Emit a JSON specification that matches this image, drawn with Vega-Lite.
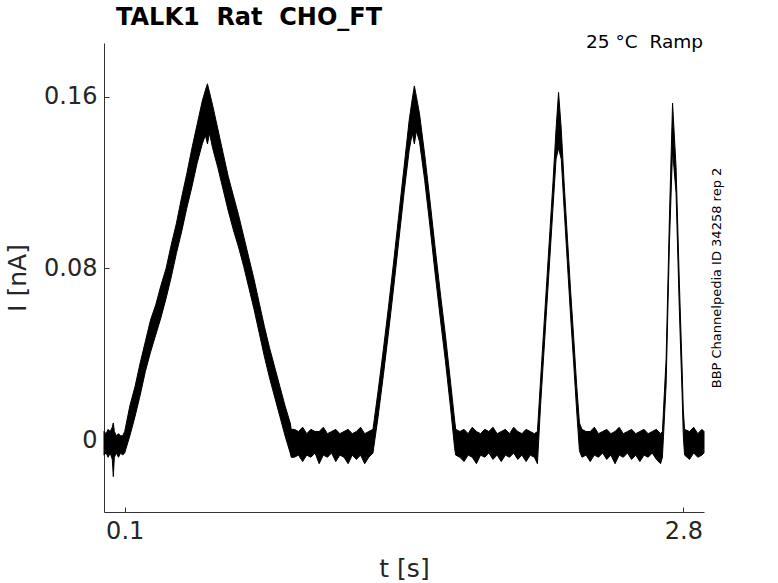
{
  "$schema": "https://vega.github.io/schema/vega-lite/v6.json",
  "width": 600,
  "height": 469,
  "autosize": {"type": "none"},
  "padding": {"left": 104, "top": 43, "right": 74, "bottom": 71},
  "background": "white",
  "title": {
    "text": "TALK1 \u00a0Rat \u00a0CHO_FT",
    "anchor": "start",
    "frame": "group",
    "dx": 12,
    "offset": -16,
    "baseline": "alphabetic",
    "font": "DejaVu Sans",
    "fontSize": 24,
    "fontWeight": "bold",
    "color": "black"
  },
  "data": {
    "values": [
      {"t": 0.000, "lo": -0.007, "hi": 0.004},
      {"t": 0.010, "lo": -0.006, "hi": 0.003},
      {"t": 0.020, "lo": -0.008, "hi": 0.005},
      {"t": 0.030, "lo": -0.006, "hi": 0.004},
      {"t": 0.040, "lo": -0.009, "hi": 0.006},
      {"t": 0.045, "lo": -0.017, "hi": 0.008},
      {"t": 0.050, "lo": -0.008, "hi": 0.004},
      {"t": 0.060, "lo": -0.006, "hi": 0.002},
      {"t": 0.070, "lo": -0.008, "hi": 0.003},
      {"t": 0.080, "lo": -0.006, "hi": 0.002},
      {"t": 0.090, "lo": -0.007, "hi": 0.002},
      {"t": 0.100, "lo": -0.006, "hi": 0.004},
      {"t": 0.125, "lo": 0.002, "hi": 0.016},
      {"t": 0.150, "lo": 0.011, "hi": 0.025},
      {"t": 0.175, "lo": 0.021, "hi": 0.036},
      {"t": 0.200, "lo": 0.032, "hi": 0.046},
      {"t": 0.225, "lo": 0.041, "hi": 0.056},
      {"t": 0.250, "lo": 0.049, "hi": 0.063},
      {"t": 0.275, "lo": 0.057, "hi": 0.072},
      {"t": 0.300, "lo": 0.066, "hi": 0.080},
      {"t": 0.325, "lo": 0.076, "hi": 0.091},
      {"t": 0.350, "lo": 0.087, "hi": 0.101},
      {"t": 0.375, "lo": 0.097, "hi": 0.113},
      {"t": 0.400, "lo": 0.108, "hi": 0.124},
      {"t": 0.425, "lo": 0.118, "hi": 0.136},
      {"t": 0.450, "lo": 0.129, "hi": 0.147},
      {"t": 0.475, "lo": 0.138, "hi": 0.158},
      {"t": 0.490, "lo": 0.142, "hi": 0.163},
      {"t": 0.500, "lo": 0.138, "hi": 0.166},
      {"t": 0.510, "lo": 0.143, "hi": 0.162},
      {"t": 0.525, "lo": 0.136, "hi": 0.156},
      {"t": 0.550, "lo": 0.127, "hi": 0.145},
      {"t": 0.575, "lo": 0.117, "hi": 0.134},
      {"t": 0.600, "lo": 0.107, "hi": 0.123},
      {"t": 0.625, "lo": 0.098, "hi": 0.114},
      {"t": 0.650, "lo": 0.090, "hi": 0.105},
      {"t": 0.675, "lo": 0.081, "hi": 0.095},
      {"t": 0.700, "lo": 0.071, "hi": 0.085},
      {"t": 0.725, "lo": 0.061, "hi": 0.075},
      {"t": 0.750, "lo": 0.050, "hi": 0.064},
      {"t": 0.775, "lo": 0.039, "hi": 0.053},
      {"t": 0.800, "lo": 0.029, "hi": 0.043},
      {"t": 0.825, "lo": 0.020, "hi": 0.034},
      {"t": 0.850, "lo": 0.011, "hi": 0.025},
      {"t": 0.875, "lo": 0.002, "hi": 0.016},
      {"t": 0.900, "lo": -0.006, "hi": 0.008},
      {"t": 0.905, "lo": -0.008, "hi": 0.005},
      {"t": 0.920, "lo": -0.008, "hi": 0.005},
      {"t": 0.940, "lo": -0.007, "hi": 0.004},
      {"t": 0.960, "lo": -0.010, "hi": 0.006},
      {"t": 0.980, "lo": -0.007, "hi": 0.003},
      {"t": 1.000, "lo": -0.008, "hi": 0.005},
      {"t": 1.020, "lo": -0.006, "hi": 0.004},
      {"t": 1.040, "lo": -0.011, "hi": 0.004},
      {"t": 1.060, "lo": -0.007, "hi": 0.006},
      {"t": 1.080, "lo": -0.008, "hi": 0.003},
      {"t": 1.100, "lo": -0.006, "hi": 0.004},
      {"t": 1.120, "lo": -0.010, "hi": 0.005},
      {"t": 1.140, "lo": -0.007, "hi": 0.003},
      {"t": 1.160, "lo": -0.008, "hi": 0.004},
      {"t": 1.180, "lo": -0.011, "hi": 0.005},
      {"t": 1.200, "lo": -0.007, "hi": 0.003},
      {"t": 1.220, "lo": -0.009, "hi": 0.004},
      {"t": 1.240, "lo": -0.007, "hi": 0.006},
      {"t": 1.260, "lo": -0.011, "hi": 0.003},
      {"t": 1.280, "lo": -0.008, "hi": 0.004},
      {"t": 1.300, "lo": -0.006, "hi": 0.005},
      {"t": 1.325, "lo": 0.011, "hi": 0.023},
      {"t": 1.350, "lo": 0.030, "hi": 0.042},
      {"t": 1.375, "lo": 0.050, "hi": 0.062},
      {"t": 1.400, "lo": 0.071, "hi": 0.083},
      {"t": 1.425, "lo": 0.093, "hi": 0.105},
      {"t": 1.450, "lo": 0.115, "hi": 0.127},
      {"t": 1.475, "lo": 0.135, "hi": 0.149},
      {"t": 1.490, "lo": 0.143, "hi": 0.159},
      {"t": 1.500, "lo": 0.138, "hi": 0.165},
      {"t": 1.510, "lo": 0.144, "hi": 0.160},
      {"t": 1.525, "lo": 0.139, "hi": 0.152},
      {"t": 1.550, "lo": 0.121, "hi": 0.133},
      {"t": 1.575, "lo": 0.100, "hi": 0.112},
      {"t": 1.600, "lo": 0.078, "hi": 0.090},
      {"t": 1.625, "lo": 0.057, "hi": 0.069},
      {"t": 1.650, "lo": 0.037, "hi": 0.049},
      {"t": 1.675, "lo": 0.015, "hi": 0.027},
      {"t": 1.695, "lo": -0.004, "hi": 0.009},
      {"t": 1.700, "lo": -0.007, "hi": 0.005},
      {"t": 1.720, "lo": -0.008, "hi": 0.004},
      {"t": 1.740, "lo": -0.010, "hi": 0.005},
      {"t": 1.760, "lo": -0.007, "hi": 0.003},
      {"t": 1.780, "lo": -0.008, "hi": 0.006},
      {"t": 1.800, "lo": -0.011, "hi": 0.004},
      {"t": 1.820, "lo": -0.007, "hi": 0.003},
      {"t": 1.840, "lo": -0.008, "hi": 0.005},
      {"t": 1.860, "lo": -0.006, "hi": 0.004},
      {"t": 1.880, "lo": -0.009, "hi": 0.006},
      {"t": 1.900, "lo": -0.007, "hi": 0.003},
      {"t": 1.920, "lo": -0.010, "hi": 0.004},
      {"t": 1.940, "lo": -0.007, "hi": 0.005},
      {"t": 1.960, "lo": -0.008, "hi": 0.003},
      {"t": 1.980, "lo": -0.006, "hi": 0.006},
      {"t": 2.000, "lo": -0.009, "hi": 0.004},
      {"t": 2.020, "lo": -0.007, "hi": 0.003},
      {"t": 2.040, "lo": -0.010, "hi": 0.005},
      {"t": 2.060, "lo": -0.007, "hi": 0.004},
      {"t": 2.080, "lo": -0.008, "hi": 0.003},
      {"t": 2.095, "lo": -0.011, "hi": 0.004},
      {"t": 2.110, "lo": 0.016, "hi": 0.028},
      {"t": 2.125, "lo": 0.039, "hi": 0.051},
      {"t": 2.140, "lo": 0.062, "hi": 0.074},
      {"t": 2.155, "lo": 0.085, "hi": 0.097},
      {"t": 2.170, "lo": 0.108, "hi": 0.120},
      {"t": 2.185, "lo": 0.131, "hi": 0.145},
      {"t": 2.197, "lo": 0.136, "hi": 0.162},
      {"t": 2.210, "lo": 0.131, "hi": 0.145},
      {"t": 2.225, "lo": 0.106, "hi": 0.118},
      {"t": 2.240, "lo": 0.082, "hi": 0.094},
      {"t": 2.255, "lo": 0.058, "hi": 0.070},
      {"t": 2.270, "lo": 0.036, "hi": 0.048},
      {"t": 2.285, "lo": 0.013, "hi": 0.025},
      {"t": 2.298, "lo": -0.005, "hi": 0.008},
      {"t": 2.310, "lo": -0.008, "hi": 0.005},
      {"t": 2.330, "lo": -0.007, "hi": 0.004},
      {"t": 2.350, "lo": -0.010, "hi": 0.004},
      {"t": 2.370, "lo": -0.007, "hi": 0.006},
      {"t": 2.390, "lo": -0.008, "hi": 0.003},
      {"t": 2.410, "lo": -0.006, "hi": 0.004},
      {"t": 2.430, "lo": -0.009, "hi": 0.005},
      {"t": 2.450, "lo": -0.007, "hi": 0.003},
      {"t": 2.470, "lo": -0.011, "hi": 0.004},
      {"t": 2.490, "lo": -0.007, "hi": 0.006},
      {"t": 2.510, "lo": -0.008, "hi": 0.003},
      {"t": 2.530, "lo": -0.006, "hi": 0.004},
      {"t": 2.550, "lo": -0.009, "hi": 0.005},
      {"t": 2.570, "lo": -0.007, "hi": 0.003},
      {"t": 2.590, "lo": -0.010, "hi": 0.004},
      {"t": 2.610, "lo": -0.007, "hi": 0.005},
      {"t": 2.630, "lo": -0.008, "hi": 0.003},
      {"t": 2.650, "lo": -0.006, "hi": 0.004},
      {"t": 2.670, "lo": -0.009, "hi": 0.005},
      {"t": 2.690, "lo": -0.011, "hi": 0.003},
      {"t": 2.699, "lo": -0.008, "hi": 0.004},
      {"t": 2.717, "lo": 0.026, "hi": 0.038},
      {"t": 2.733, "lo": 0.092, "hi": 0.104},
      {"t": 2.748, "lo": 0.135, "hi": 0.157},
      {"t": 2.765, "lo": 0.115, "hi": 0.127},
      {"t": 2.781, "lo": 0.060, "hi": 0.073},
      {"t": 2.794, "lo": 0.022, "hi": 0.034},
      {"t": 2.800, "lo": 0.002, "hi": 0.014},
      {"t": 2.806, "lo": -0.007, "hi": 0.005},
      {"t": 2.830, "lo": -0.009, "hi": 0.004},
      {"t": 2.850, "lo": -0.006, "hi": 0.006},
      {"t": 2.870, "lo": -0.008, "hi": 0.003},
      {"t": 2.890, "lo": -0.007, "hi": 0.005},
      {"t": 2.900, "lo": -0.006, "hi": 0.004}
    ]
  },
  "layer": [
    {
      "mark": {"type": "area", "color": "black", "stroke": "black", "strokeWidth": 1, "opacity": 1},
      "encoding": {
        "x": {
          "field": "t",
          "type": "quantitative",
          "scale": {"domain": [0, 2.9], "nice": false, "zero": false},
          "axis": {
            "orient": "bottom",
            "values": [0.1, 2.8],
            "format": ".2~g",
            "title": "t [s]",
            "titleY": 64,
            "titleBaseline": "alphabetic"
          }
        },
        "y": {
          "field": "hi",
          "type": "quantitative",
          "scale": {"domain": [-0.0335, 0.185], "nice": false, "zero": false},
          "axis": {
            "orient": "left",
            "values": [0, 0.08, 0.16],
            "format": ".2~g",
            "title": "I [nA]",
            "titleX": -87,
            "titleY": 234.5,
            "titleAngle": 270,
            "titleAlign": "center",
            "titleBaseline": "middle"
          }
        },
        "y2": {"field": "lo"}
      }
    },
    {
      "data": {"values": [{"label": "25 °C \u00a0Ramp", "t": 2.9, "I": 0.185}]},
      "mark": {
        "type": "text",
        "align": "right",
        "baseline": "alphabetic",
        "dx": -1,
        "dy": 4.7,
        "font": "DejaVu Sans",
        "fontSize": 18.5,
        "color": "black"
      },
      "encoding": {
        "x": {"field": "t", "type": "quantitative"},
        "y": {
          "field": "I",
          "type": "quantitative",
          "axis": {
            "orient": "right",
            "labels": false,
            "ticks": false,
            "domain": false,
            "title": "BBP Channelpedia ID 34258 rep 2",
            "titleX": 12.5,
            "titleY": 234.5,
            "titleAngle": 270,
            "titleAlign": "center",
            "titleBaseline": "middle",
            "titleFontSize": 13,
            "titleColor": "black"
          }
        },
        "text": {"field": "label"}
      }
    }
  ],
  "resolve": {"axis": {"y": "independent"}},
  "config": {
    "view": {"stroke": null},
    "font": "DejaVu Sans",
    "axis": {
      "grid": false,
      "domainColor": "#333333",
      "domainWidth": 1,
      "tickColor": "#333333",
      "tickSize": -5,
      "tickWidth": 1,
      "labelFont": "DejaVu Sans",
      "labelFontSize": 24,
      "labelColor": "#262626",
      "labelPadding": 12,
      "titleFont": "DejaVu Sans",
      "titleFontSize": 25,
      "titleFontWeight": "normal",
      "titleColor": "#262626"
    }
  }
}
